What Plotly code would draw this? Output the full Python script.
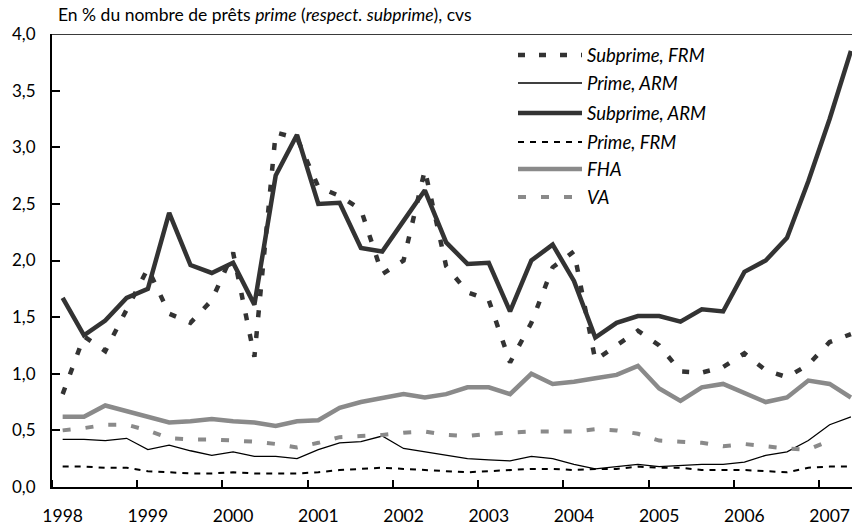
import plotly.graph_objects as go

# ---------------- data ----------------
years = ["1998", "1999", "2000", "2001", "2002", "2003", "2004", "2005", "2006", "2007"]
quarters = [f"{y}T{q}" for y in years for q in range(1, 5)][:38]   # 1998T1 .. 2007T2

subprime_frm = [0.82, 1.33, 1.20, 1.57, 1.93, 1.53, 1.45, 1.65, 2.07, 1.15,
                3.13, 3.08, 2.65, 2.57, 2.45, 1.88, 2.00, 2.80, 1.95, 1.72,
                1.65, 1.10, 1.45, 1.94, 2.08, 1.12, 1.25, 1.38, 1.25, 1.02,
                1.01, 1.06, 1.18, 1.03, 0.97, 1.08, 1.28, 1.35]
prime_arm = [0.42, 0.42, 0.41, 0.43, 0.33, 0.37, 0.32, 0.28, 0.31, 0.27,
             0.27, 0.25, 0.33, 0.39, 0.40, 0.45, 0.34, 0.31, 0.28, 0.25,
             0.24, 0.23, 0.27, 0.25, 0.20, 0.16, 0.18, 0.20, 0.18, 0.19,
             0.20, 0.20, 0.22, 0.28, 0.31, 0.41, 0.55, 0.62]
subprime_arm = [1.67, 1.34, 1.47, 1.67, 1.75, 2.42, 1.96, 1.89, 1.98, 1.61,
                2.75, 3.11, 2.50, 2.51, 2.11, 2.08, 2.35, 2.62, 2.16, 1.97,
                1.98, 1.55, 2.00, 2.14, 1.82, 1.32, 1.45, 1.51, 1.51, 1.46,
                1.57, 1.55, 1.90, 2.00, 2.20, 2.70, 3.25, 3.85]
prime_frm = [0.18, 0.18, 0.17, 0.17, 0.14, 0.13, 0.12, 0.12, 0.13, 0.12,
             0.12, 0.12, 0.13, 0.15, 0.16, 0.17, 0.16, 0.15, 0.14, 0.13,
             0.14, 0.15, 0.16, 0.16, 0.15, 0.16, 0.16, 0.18, 0.17, 0.17,
             0.15, 0.15, 0.15, 0.14, 0.13, 0.17, 0.18, 0.18]
fha = [0.62, 0.62, 0.72, 0.67, 0.62, 0.57, 0.58, 0.60, 0.58, 0.57,
       0.54, 0.58, 0.59, 0.70, 0.75, 0.79, 0.82, 0.79, 0.82, 0.88,
       0.88, 0.82, 1.00, 0.91, 0.93, 0.96, 0.99, 1.07, 0.87, 0.76,
       0.88, 0.91, 0.83, 0.75, 0.79, 0.94, 0.91, 0.79]
va = [0.50, 0.52, 0.55, 0.55, 0.50, 0.43, 0.42, 0.42, 0.41, 0.40,
      0.38, 0.35, 0.39, 0.44, 0.45, 0.46, 0.48, 0.49, 0.46, 0.45,
      0.47, 0.48, 0.49, 0.49, 0.49, 0.51, 0.50, 0.47, 0.41, 0.40,
      0.39, 0.36, 0.38, 0.36, 0.34, 0.33, 0.41, None]

series_names = ["Subprime, FRM", "Prime, ARM", "Subprime, ARM", "Prime, FRM", "FHA", "VA"]
y_ticks = [0.0, 0.5, 1.0, 1.5, 2.0, 2.5, 3.0, 3.5, 4.0]

title_text = "En % du nombre de prêts <i>prime</i> (<i>respect. subprime</i>), cvs"

# ---------------- styles ----------------
DARK = "#333333"
GREY = "#8a8a8a"
styles = [
    dict(color=DARK, width=4.5, dash="7px,14px"),
    dict(color="#000000", width=1.3, dash="solid"),
    dict(color=DARK, width=4.5, dash="solid"),
    dict(color="#000000", width=2, dash="6px,6px"),
    dict(color=GREY, width=4.5, dash="solid"),
    dict(color=GREY, width=4, dash="8px,15px"),
]
values = [subprime_frm, prime_arm, subprime_arm, prime_frm, fha, va]

FONT = "Lato"
W, H = 852, 526
ML, MR, MT, MB = 52, 0, 34, 39
PW, PH = W - ML - MR, H - MT - MB

def px_x(p):
    return (p - ML) / PW

def px_y(p):
    return (H - MB - p) / PH

x_idx = list(range(len(quarters)))

fig = go.Figure()
for name, vals, st in zip(series_names, values, styles):
    fig.add_trace(go.Scatter(
        x=x_idx, y=vals, mode="lines", name=name,
        line=dict(color=st["color"], width=st["width"], dash=st["dash"]),
        connectgaps=False, showlegend=False, hoverinfo="skip",
    ))

# Manual legend (keys + labels)
legend_rows_px = [55, 83, 113, 142, 169, 197]
shapes = []
annotations = []
for name, st, ry in zip(series_names, styles, legend_rows_px):
    shapes.append(dict(type="line", xref="paper", yref="paper",
                       x0=px_x(518), x1=px_x(582), y0=px_y(ry), y1=px_y(ry),
                       line=dict(color=st["color"], width=st["width"], dash=st["dash"])))
    annotations.append(dict(xref="paper", yref="paper", x=px_x(585), y=px_y(ry),
                            xanchor="left", yanchor="middle", showarrow=False,
                            text=f"<i>{name}</i>",
                            font=dict(family=FONT, size=18.5, color="#000000")))

# top border line
shapes.append(dict(type="line", xref="paper", yref="y", x0=0, x1=1, y0=4, y1=4,
                   line=dict(color="#3a3a3a", width=2)))

annotations.append(dict(xref="paper", yref="paper", x=px_x(56), y=px_y(14),
                        xanchor="left", yanchor="middle", showarrow=False,
                        text=title_text, font=dict(family=FONT, size=17.5, color="#000000")))

year_pos = [x_idx[i] for i in range(0, len(quarters), 4)]
boundaries = [p - 0.5 for p in year_pos]

fig.update_layout(
    template="none",
    width=W, height=H,
    margin=dict(l=ML, r=MR, t=MT, b=MB, pad=0),
    paper_bgcolor="white", plot_bgcolor="white",
    separators=", ",
    font=dict(family=FONT, size=17, color="#000000"),
    shapes=shapes, annotations=annotations,
    showlegend=False,
    xaxis=dict(
        automargin=False,
        range=[-0.5, 37.05], showgrid=False, zeroline=False,
        tickmode="array", tickvals=year_pos, ticktext=years,
        ticks="", showline=True, linecolor="#000000", linewidth=2,
        ticklabelstandoff=12,
        tickfont=dict(family=FONT, size=17.5),
        minor=dict(tickmode="array", tickvals=boundaries, ticks="inside",
                   ticklen=7, tickwidth=1.5, tickcolor="#000000", showgrid=False),
    ),
    yaxis=dict(
        automargin=False,
        range=[0, 4], showgrid=False, zeroline=False,
        tickmode="array", tickvals=y_ticks, tickformat=".1f",
        ticks="inside", ticklen=8, tickwidth=1.5, tickcolor="#000000",
        showline=True, linecolor="#000000", linewidth=2,
        ticklabelstandoff=11,
        tickfont=dict(family=FONT, size=17),
    ),
)

fig.write_html("out.html", config={"displayModeBar": False},
               post_script="document.body.style.margin='0';document.body.style.padding='0';")
